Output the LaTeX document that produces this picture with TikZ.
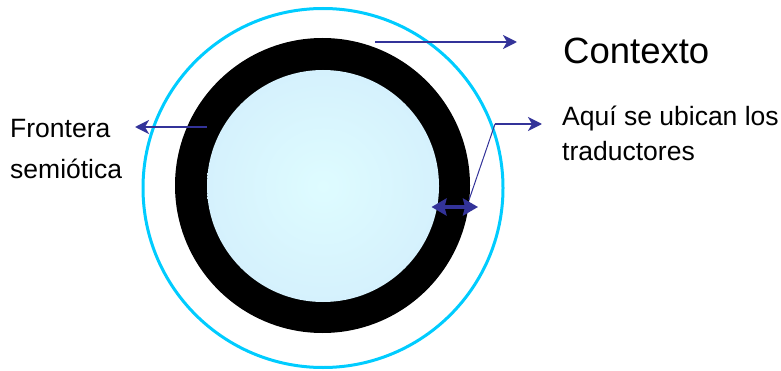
\documentclass[tikz,border=0pt]{standalone}
\usepackage{fontspec}
\setmainfont{Liberation Sans}
\usetikzlibrary{arrows.meta}
\definecolor{ringcyan}{RGB}{0,204,255}
\definecolor{arrowblue}{RGB}{51,51,153}
\definecolor{glowin}{RGB}{222,252,255}
\definecolor{glowout}{RGB}{204,230,250}
\pgfdeclareradialshading{innerglow}{\pgfpoint{0bp}{0bp}}{color(0bp)=(glowin); color(50bp)=(glowout)}
\tikzset{
  lbl/.style={anchor=base west, inner sep=0pt, font=\fontsize{26.5}{30}\selectfont},
  bigl/.style={anchor=base west, inner sep=0pt, font=\fontsize{36.5}{40}\selectfont},
  pointer/.style={draw=arrowblue, line width=2.3pt, -{Stealth[length=14pt,width=14pt,inset=4pt]}, arrowblue},
  thinl/.style={draw=arrowblue, line width=1pt},
  dbl/.style={draw=arrowblue, line width=3.5pt, arrowblue, {Stealth[length=15pt,width=17pt,inset=2pt]}-{Stealth[length=15pt,width=17pt,inset=2pt]}}
}
\begin{document}
\begin{tikzpicture}[x=1pt,y=1pt]
\useasboundingbox (0,0) rectangle (781,370);
% circles
\draw[ringcyan, line width=3pt] (323,182) ellipse [x radius=180, y radius=179.5];
\fill[black] (322.5,184.5) circle [radius=147.5];
\path[shading=innerglow] (323,184) circle [radius=116];
% coordinates
\coordinate (topS) at (375,328);
\coordinate (topE) at (517,328);
\coordinate (leftS) at (207,243);
\coordinate (leftE) at (135,243);
\coordinate (rightS) at (495,246);
\coordinate (rightE) at (542,246);
\coordinate (lineE) at (469,170);
\coordinate (dA) at (431.5,163);
\coordinate (dB) at (478,163);
% texts
\node[bigl] (ctx) at (563,306) {Contexto};
\node[lbl] (aqui) at (562,244) {Aquí se ubican los};
\node[lbl] (trad) at (562,209) {traductores};
\node[lbl] (front) at (10,232) {Frontera};
\node[lbl] (semi) at (10,192) {semiótica};
% connectors
\draw[pointer] (topS) -- (topE);
\draw[pointer] (leftS) -- (leftE);
\draw[pointer] (rightS) -- (rightE);
\draw[thinl] (rightS) -- (lineE);
\draw[dbl] (dA) -- (dB);
\end{tikzpicture}
\end{document}
